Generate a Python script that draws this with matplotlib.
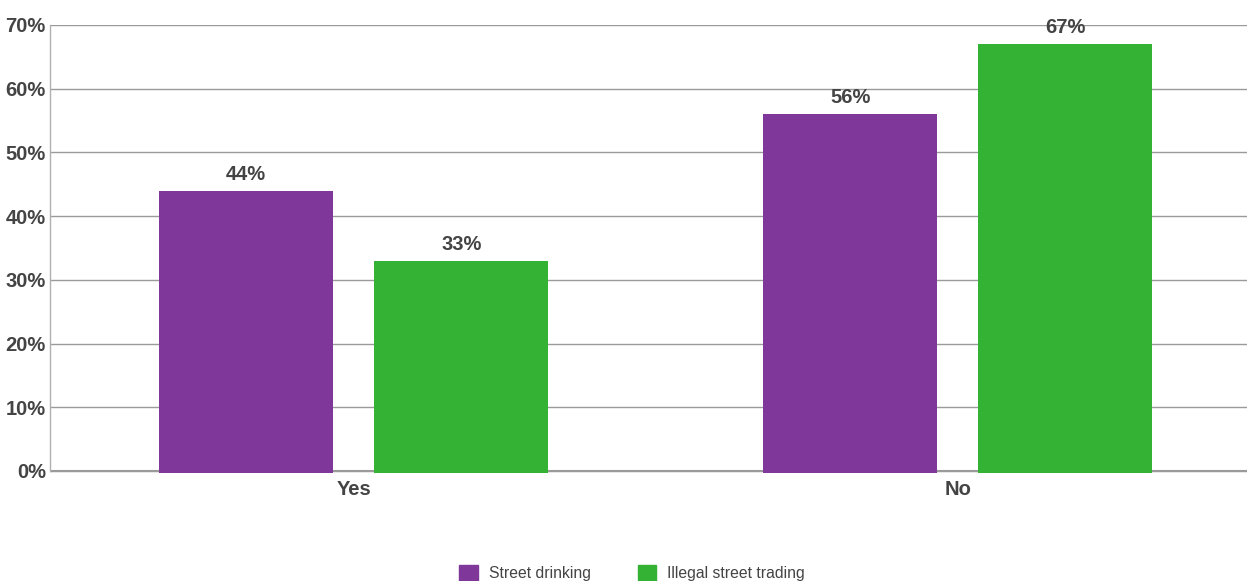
import matplotlib
matplotlib.use("Agg")
import matplotlib.pyplot as plt
from matplotlib.patches import Patch
from matplotlib import font_manager as fm

categories = ["Yes", "No"]
series_names = ["Street drinking", "Illegal street trading"]
street_drinking = [44, 56]
illegal_trading = [33, 67]
yticks = [0, 10, 20, 30, 40, 50, 60, 70]

names = {f.name for f in fm.fontManager.ttflist}
fam = "Liberation Sans Narrow" if "Liberation Sans Narrow" in names else "Liberation Sans"
plt.rcParams["font.family"] = [fam, "DejaVu Sans"]

purple = "#7f3799"
green = "#34b233"
txt = "#444444"
grid = "#9a9a9a"

fig = plt.figure(figsize=(12.47, 5.81), dpi=100)
ax = fig.add_axes([50/1247, 1-473.5/581, 1-50/1247, (473.5-25)/581])

x = list(range(len(categories)))
w = 0.288
off = 0.178
b1 = ax.bar([i - off for i in x], [v + 0.3 for v in street_drinking], bottom=-0.3,
            width=w, color=purple, zorder=3)
b2 = ax.bar([i + off for i in x], [v + 0.3 for v in illegal_trading], bottom=-0.3,
            width=w, color=green, zorder=3)
for vals, bars in ((street_drinking, b1), (illegal_trading, b2)):
    for v, r in zip(vals, bars):
        ax.annotate(f"{v:.0f}%", (r.get_x() + r.get_width()/2, v), xytext=(0, 5),
                    textcoords="offset points", ha="center", va="bottom",
                    fontsize=14.5, fontweight="bold", color=txt)

ax.set_xlim(-0.503, 1.479)
ax.set_ylim(-0.4, 70)
ax.set_yticks(yticks)
ax.set_yticklabels([f"{v}%" for v in yticks], fontsize=14.5, fontweight="bold", color=txt)
ax.set_xticks(x)
ax.set_xticklabels(categories, fontsize=14.5, fontweight="bold", color=txt)
ax.tick_params(axis="both", length=0, pad=3)
ax.tick_params(axis="x", pad=5)
ax.yaxis.grid(True, color=grid, linewidth=1, zorder=0)
for s in ["top", "right", "bottom"]:
    ax.spines[s].set_visible(False)
ax.spines["left"].set_color("#b0b0b0")
ax.spines["left"].set_linewidth(1)
ax.spines["left"].set_bounds(0, 70)
ax.axhline(0, color=grid, linewidth=1.5, zorder=2)

handles = [Patch(color=purple), Patch(color=green)]
fig.legend(handles, series_names, loc="lower center", bbox_to_anchor=(0.507, -0.025),
           ncol=2, frameon=False, fontsize=11.3, handlelength=1.2, handleheight=1.2,
           handletextpad=0.7, columnspacing=2.95, labelcolor=txt)

fig.savefig("out.png", dpi=100)
